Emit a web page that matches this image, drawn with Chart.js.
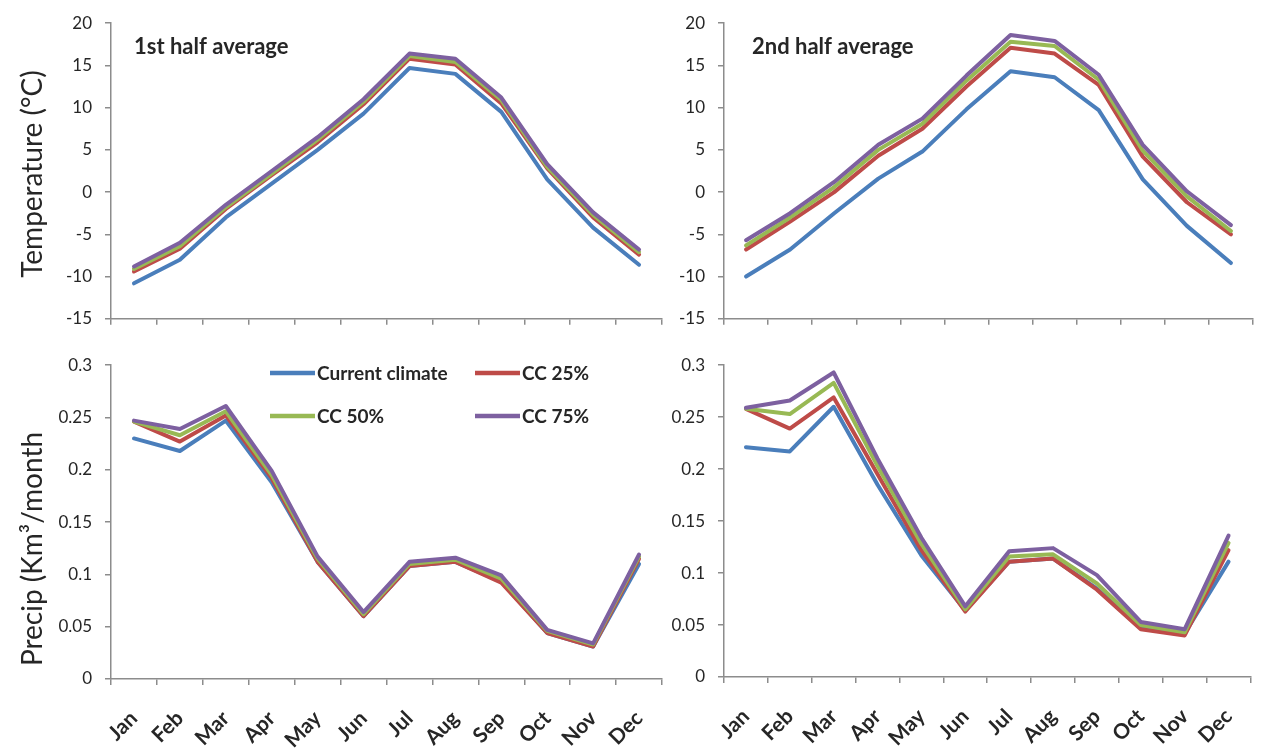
<!DOCTYPE html>
<html>
<head>
<meta charset="utf-8">
<script src="https://cdn.jsdelivr.net/npm/chart.js@4.4.0/dist/chart.umd.min.js"></script>
<style>
  html, body { margin: 0; padding: 0; background: #ffffff; }
  #wrap { position: relative; width: 1268px; height: 752px; overflow: hidden; }
  canvas { position: absolute; }
</style>
</head>
<body>
<div id="wrap">
  <canvas id="tempFirst"></canvas>
  <canvas id="tempSecond"></canvas>
  <canvas id="precipFirst"></canvas>
  <canvas id="precipSecond"></canvas>
</div>
<script>
// Month categories and scenario names
const months = ['Jan', 'Feb', 'Mar', 'Apr', 'May', 'Jun', 'Jul', 'Aug', 'Sep', 'Oct', 'Nov', 'Dec'];
const scenarioNames = ['Current climate', 'CC 25%', 'CC 50%', 'CC 75%'];

// Temperature (°C), first half of the period
const tempFirstCurrent = [-10.8, -8.0, -3.0, 1.0, 5.0, 9.3, 14.7, 14.0, 9.5, 1.5, -4.2, -8.6];
const tempFirstCC25    = [-9.4, -6.7, -2.0, 2.0, 5.9, 10.4, 15.8, 15.1, 10.5, 2.8, -3.0, -7.4];
const tempFirstCC50    = [-9.1, -6.4, -1.8, 2.2, 6.2, 10.7, 16.1, 15.4, 10.9, 3.0, -2.7, -7.1];
const tempFirstCC75    = [-8.8, -6.0, -1.5, 2.5, 6.5, 11.0, 16.4, 15.8, 11.2, 3.3, -2.4, -6.8];

// Temperature (°C), second half of the period
const tempSecondCurrent = [-10.0, -6.8, -2.5, 1.6, 4.8, 9.8, 14.3, 13.6, 9.7, 1.5, -4.0, -8.4];
const tempSecondCC25    = [-6.8, -3.5, 0.0, 4.3, 7.5, 12.5, 17.1, 16.4, 12.7, 4.2, -1.2, -5.0];
const tempSecondCC50    = [-6.3, -3.0, 0.6, 5.0, 8.1, 13.2, 17.8, 17.3, 13.3, 4.9, -0.5, -4.6];
const tempSecondCC75    = [-5.7, -2.5, 1.2, 5.6, 8.7, 13.8, 18.6, 17.9, 13.9, 5.6, 0.1, -3.9];

// Precipitation (km³/month), first half of the period
const precipFirstCurrent = [0.230, 0.218, 0.247, 0.188, 0.112, 0.060, 0.108, 0.112, 0.093, 0.044, 0.031, 0.110];
const precipFirstCC25    = [0.246, 0.227, 0.252, 0.192, 0.112, 0.060, 0.108, 0.112, 0.092, 0.044, 0.031, 0.115];
const precipFirstCC50    = [0.246, 0.233, 0.256, 0.195, 0.115, 0.062, 0.110, 0.114, 0.096, 0.046, 0.033, 0.117];
const precipFirstCC75    = [0.247, 0.239, 0.261, 0.199, 0.117, 0.064, 0.112, 0.116, 0.099, 0.047, 0.034, 0.119];

// Precipitation (km³/month), second half of the period
const precipSecondCurrent = [0.221, 0.217, 0.260, 0.185, 0.117, 0.064, 0.111, 0.114, 0.085, 0.047, 0.042, 0.111];
const precipSecondCC25    = [0.258, 0.239, 0.269, 0.195, 0.122, 0.063, 0.111, 0.114, 0.084, 0.046, 0.040, 0.122];
const precipSecondCC50    = [0.258, 0.253, 0.283, 0.203, 0.128, 0.065, 0.116, 0.118, 0.090, 0.050, 0.043, 0.129];
const precipSecondCC75    = [0.259, 0.266, 0.293, 0.210, 0.134, 0.068, 0.121, 0.124, 0.098, 0.053, 0.046, 0.136];

const lineColors = ['#4A7EBB', '#BE4B48', '#98B954', '#7D60A0'];
const axisGray = '#8C8C8C';
const textColor = '#262626';
const FONT = 'Lato, "Open Sans", sans-serif';

// Draws free-standing labels (panel heading, rotated axis title) onto a chart canvas
const panelTextPlugin = {
  id: 'panelText',
  afterDraw(chart, args, opts) {
    const ctx = chart.ctx;
    (opts.items || []).forEach(it => {
      ctx.save();
      ctx.font = it.font;
      ctx.fillStyle = textColor;
      ctx.translate(it.x, it.y);
      if (it.rotate) ctx.rotate(it.rotate);
      ctx.textAlign = it.align || 'left';
      ctx.textBaseline = 'middle';
      ctx.fillText(it.text, 0, 0);
      ctx.restore();
    });
  }
};

// Two-column legend built from the chart's own datasets
const gridLegendPlugin = {
  id: 'gridLegend',
  afterDraw(chart, args, opts) {
    if (!opts.enabled) return;
    const ctx = chart.ctx;
    const ds = chart.data.datasets;
    ds.forEach((d, i) => {
      const col = i % 2, row = Math.floor(i / 2);
      const x = opts.columns[col];
      const y = opts.rows[row];
      ctx.save();
      ctx.strokeStyle = d.borderColor;
      ctx.lineWidth = 4.5;
      ctx.lineCap = 'butt';
      ctx.beginPath();
      ctx.moveTo(x, y);
      ctx.lineTo(x + opts.swatch, y);
      ctx.stroke();
      ctx.font = opts.font;
      ctx.fillStyle = textColor;
      ctx.textAlign = 'left';
      ctx.textBaseline = 'middle';
      ctx.fillText(d.label, x + opts.swatch + 2, y + 1);
      ctx.restore();
    });
  }
};

function makeDatasets(series) {
  return series.map((vals, i) => ({
    label: scenarioNames[i],
    data: vals,
    borderColor: lineColors[i],
    backgroundColor: lineColors[i],
    borderWidth: 4,
    pointRadius: 0,
    pointHoverRadius: 0,
    tension: 0,
    borderJoinStyle: 'round',
    borderCapStyle: 'round',
    order: series.length - i
  }));
}

function fmt(v) {
  return String(Number(Number(v).toFixed(2)));
}

function makePanel(cfg) {
  const cv = document.getElementById(cfg.id);
  cv.width = cfg.box.w;
  cv.height = cfg.box.h;
  cv.style.left = cfg.box.x + 'px';
  cv.style.top = cfg.box.y + 'px';
  cv.style.width = cfg.box.w + 'px';
  cv.style.height = cfg.box.h + 'px';

  return new Chart(cv, {
    type: 'line',
    data: { labels: months, datasets: makeDatasets(cfg.series) },
    plugins: [panelTextPlugin, gridLegendPlugin],
    options: {
      responsive: false,
      animation: false,
      devicePixelRatio: 1,
      layout: { padding: { left: 0, right: cfg.padRight, top: cfg.padTop, bottom: 0 } },
      plugins: {
        legend: { display: false },
        tooltip: { enabled: false },
        panelText: { items: cfg.texts },
        gridLegend: cfg.legend || { enabled: false }
      },
      scales: {
        x: {
          type: 'category',
          offset: true,
          grid: {
            offset: true,
            drawOnChartArea: false,
            drawTicks: true,
            tickLength: 6,
            color: axisGray,
            lineWidth: 1.5
          },
          border: { display: true, color: axisGray, width: 1.5 },
          ticks: {
            display: cfg.showMonths,
            minRotation: 45,
            maxRotation: 45,
            autoSkip: false,
            padding: 21,
            color: textColor,
            font: { family: FONT, size: 21, weight: 'bold' }
          },
          afterFit(scale) { scale.height = cfg.xHeight; }
        },
        y: {
          min: cfg.yMin,
          max: cfg.yMax,
          grid: {
            drawOnChartArea: false,
            drawTicks: true,
            tickLength: 6,
            color: axisGray,
            lineWidth: 1.5
          },
          border: { display: true, color: axisGray, width: 1.5 },
          ticks: {
            stepSize: cfg.step,
            padding: 13,
            color: textColor,
            font: { family: FONT, size: 17 },
            callback: v => fmt(v)
          },
          afterFit(scale) { scale.width = cfg.yWidth; }
        }
      }
    }
  });
}

// Top left: temperature, first half
makePanel({
  id: 'tempFirst',
  box: { x: 0, y: 0, w: 680, h: 342 },
  padTop: 14, padRight: 18, xHeight: 15, yWidth: 111,
  yMin: -15, yMax: 20, step: 5, showMonths: false,
  series: [tempFirstCurrent, tempFirstCC25, tempFirstCC50, tempFirstCC75],
  texts: [
    { text: '1st half average', x: 134, y: 47, font: 'bold 22px ' + FONT },
    { text: 'Temperature (°C)', x: 33, y: 174, rotate: -Math.PI / 2, align: 'center', font: '28px ' + FONT }
  ]
});

// Top right: temperature, second half
makePanel({
  id: 'tempSecond',
  box: { x: 640, y: 0, w: 628, h: 342 },
  padTop: 17, padRight: 15, xHeight: 15, yWidth: 84,
  yMin: -15, yMax: 20, step: 5, showMonths: false,
  series: [tempSecondCurrent, tempSecondCC25, tempSecondCC50, tempSecondCC75],
  texts: [
    { text: '2nd half average', x: 112, y: 47, font: 'bold 22px ' + FONT }
  ]
});

// Bottom left: precipitation, first half (carries the legend)
makePanel({
  id: 'precipFirst',
  box: { x: 0, y: 342, w: 680, h: 410 },
  padTop: 16, padRight: 18, xHeight: 73, yWidth: 111,
  yMin: 0, yMax: 0.3, step: 0.05, showMonths: true,
  series: [precipFirstCurrent, precipFirstCC25, precipFirstCC50, precipFirstCC75],
  texts: [
    { text: 'Precip (Km³/month', x: 33, y: 207, rotate: -Math.PI / 2, align: 'center', font: '28px ' + FONT }
  ],
  legend: { enabled: true, columns: [270, 475], rows: [31, 74], swatch: 45, font: 'bold 19px ' + FONT }
});

// Bottom right: precipitation, second half
makePanel({
  id: 'precipSecond',
  box: { x: 640, y: 342, w: 628, h: 410 },
  padTop: 19, padRight: 15, xHeight: 75, yWidth: 84,
  yMin: 0, yMax: 0.3, step: 0.05, showMonths: true,
  series: [precipSecondCurrent, precipSecondCC25, precipSecondCC50, precipSecondCC75],
  texts: []
});
</script>
</body>
</html>
